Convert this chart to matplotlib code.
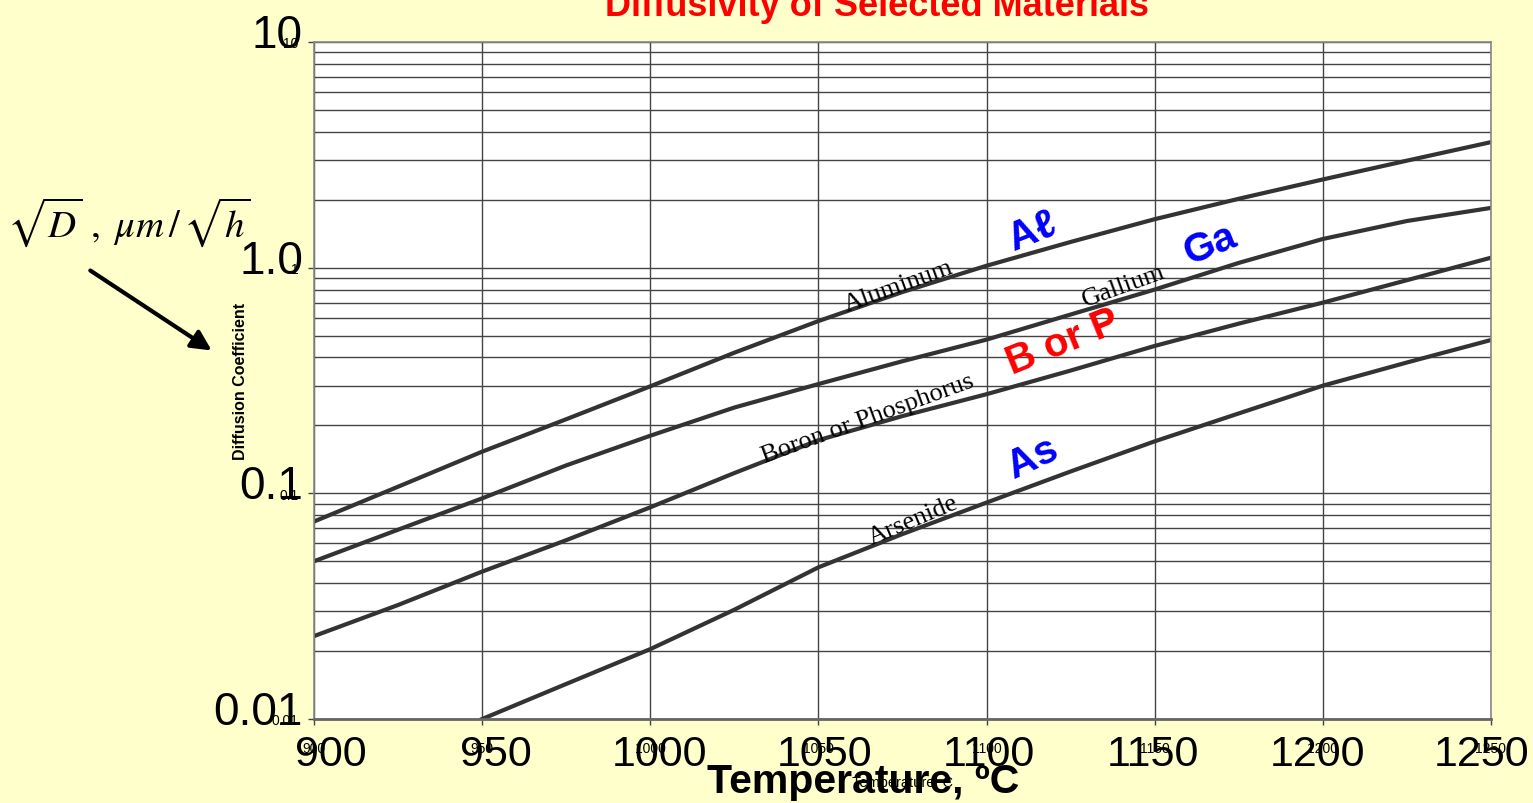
import numpy as np
import matplotlib
matplotlib.use("Agg")
import matplotlib.pyplot as plt
from matplotlib.ticker import LogLocator, FixedLocator, NullFormatter

temps = [900, 925, 950, 975, 1000, 1025, 1050, 1075, 1100, 1125, 1150, 1175, 1200, 1225, 1250]
aluminum = [0.075, 0.107, 0.153, 0.213, 0.298, 0.42, 0.58, 0.78, 1.02, 1.30, 1.64, 2.02, 2.46, 2.98, 3.60]
gallium = [0.050, 0.069, 0.095, 0.133, 0.180, 0.24, 0.305, 0.385, 0.48, 0.62, 0.80, 1.05, 1.34, 1.61, 1.84]
boron = [0.0233, 0.032, 0.045, 0.062, 0.0867, 0.123, 0.172, 0.22, 0.275, 0.35, 0.45, 0.565, 0.70, 0.88, 1.107]
as_temps = temps[2:]
arsenic = [0.0100, 0.0143, 0.0204, 0.0305, 0.047, 0.066, 0.091, 0.125, 0.17, 0.226, 0.30, 0.38, 0.478]

xticks = [900, 950, 1000, 1050, 1100, 1150, 1200, 1250]
yticks = [0.01, 0.1, 1, 10]
ytick_small = ['0.01', '0.1', '1', '10']
ytick_big = ['0.01', '0.1', '1.0', '10']

plt.rcParams['mathtext.fontset'] = 'stix'
sans = ['Liberation Sans', 'DejaVu Sans']
serif = ['Liberation Serif', 'DejaVu Serif']
bg = '#FFFFCC'
line_c = '#333333'

fig = plt.figure(figsize=(15.33, 8.04), dpi=100, facecolor=bg)
ax = fig.add_axes([314/1533, 1-720/804, (1491-314)/1533, (720-43)/804])
ax.set_facecolor('white')

ax.plot(temps, aluminum, color=line_c, lw=3, solid_joinstyle='round')
ax.plot(temps, gallium, color=line_c, lw=3, solid_joinstyle='round')
ax.plot(temps, boron, color=line_c, lw=3, solid_joinstyle='round')
ax.plot(as_temps, arsenic, color=line_c, lw=3, solid_joinstyle='round')

ax.set_yscale('log')
ax.set_xlim(900, 1250)
ax.set_ylim(0.01, 10)

ax.xaxis.set_major_locator(FixedLocator(xticks))
ax.yaxis.set_major_locator(FixedLocator(yticks))
ax.yaxis.set_minor_locator(LogLocator(base=10, subs=np.arange(2, 10)))
ax.yaxis.set_minor_formatter(NullFormatter())
ax.set_yticklabels(ytick_small, fontsize=10, family=sans)
ax.set_xticklabels([str(t) for t in xticks], fontsize=10, family=sans)
ax.tick_params(axis='both', which='major', direction='out', length=4, color='#444444', width=1)
ax.tick_params(axis='y', which='major', pad=7)
ax.tick_params(axis='x', which='major', pad=12)
ax.tick_params(axis='y', which='minor', length=0)

ax.grid(True, axis='x', which='major', color='#444444', lw=1)
ax.grid(True, axis='y', which='both', color='#444444', lw=1)
ax.set_axisbelow(True)
for s in ax.spines.values():
    s.set_color('#888888')
    s.set_linewidth(1.2)
ax.spines['bottom'].set_color('#666666')
ax.spines['bottom'].set_linewidth(2)

# large overlaid tick labels
for v, lbl in zip(yticks, ytick_big):
    ax.annotate(lbl, xy=(0, v), xycoords=('axes fraction', 'data'),
                xytext=(-8, 5), textcoords='offset points',
                ha='right', va='center', fontsize=33, family=sans)
for i, t in enumerate(xticks):
    off = (17 - 26 * i / 7) * 0.72
    ax.annotate(str(t), xy=(t, 0), xycoords=('data', 'axes fraction'),
                xytext=(off, -25), textcoords='offset points',
                ha='center', va='center', fontsize=31, family=sans)

ax.set_xlabel('Temperature, C', fontsize=10.5, family=sans, labelpad=14)
ax.set_ylabel('Diffusion Coefficient', fontsize=11.5, family=sans,
              fontweight='bold', labelpad=17)

fig.text(863/1533, 1-782/804, 'Temperature, ºC', fontsize=29.5, fontweight='bold',
         family=sans, ha='center', va='center')
fig.text(877/1533, 1-16/804, 'Diffusivity of Selected Materials', fontsize=26,
         fontweight='bold', color='red', ha='center', va='baseline',
         family=['Liberation Sans Narrow', 'Liberation Sans'])
fig.text(129/1533, 1-222/804, r'$\sqrt{D}\ ,\ \mu m\,/\,\sqrt{h}$', fontsize=28,
         ha='center', va='center')
ax.annotate('', xy=(214/1533, 1-353/804), xycoords='figure fraction',
            xytext=(88/1533, 1-270/804), textcoords='figure fraction',
            arrowprops=dict(arrowstyle='-|>', lw=3, color='black', mutation_scale=30),
            annotation_clip=False)

# curve names
ax.text(1073.7, 0.83, 'Aluminum', rotation=20, fontsize=19, family=serif,
        ha='center', va='center')
ax.text(1140.6, 0.83, 'Gallium', rotation=20, fontsize=19, family=serif,
        ha='center', va='center')
ax.text(1064.7, 0.216, 'Boron or Phosphorus', rotation=20, fontsize=19, family=serif,
        ha='center', va='center')
ax.text(1078.1, 0.0765, 'Arsenide', rotation=23, fontsize=19, family=serif,
        ha='center', va='center')

ax.text(1113.5, 1.454, 'Aℓ', rotation=22, fontsize=29, fontweight='bold', color='blue',
        family=sans, ha='center', va='center')
ax.text(1166.4, 1.273, 'Ga', rotation=22, fontsize=29, fontweight='bold', color='blue',
        family=sans, ha='center', va='center')
ax.text(1122.7, 0.469, 'B or P', rotation=22, fontsize=29, fontweight='bold', color='red',
        family=sans, ha='center', va='center')
ax.text(1113.8, 0.145, 'As', rotation=25, fontsize=29, fontweight='bold', color='blue',
        family=sans, ha='center', va='center')

fig.savefig('out.png', dpi=100, facecolor=bg)
